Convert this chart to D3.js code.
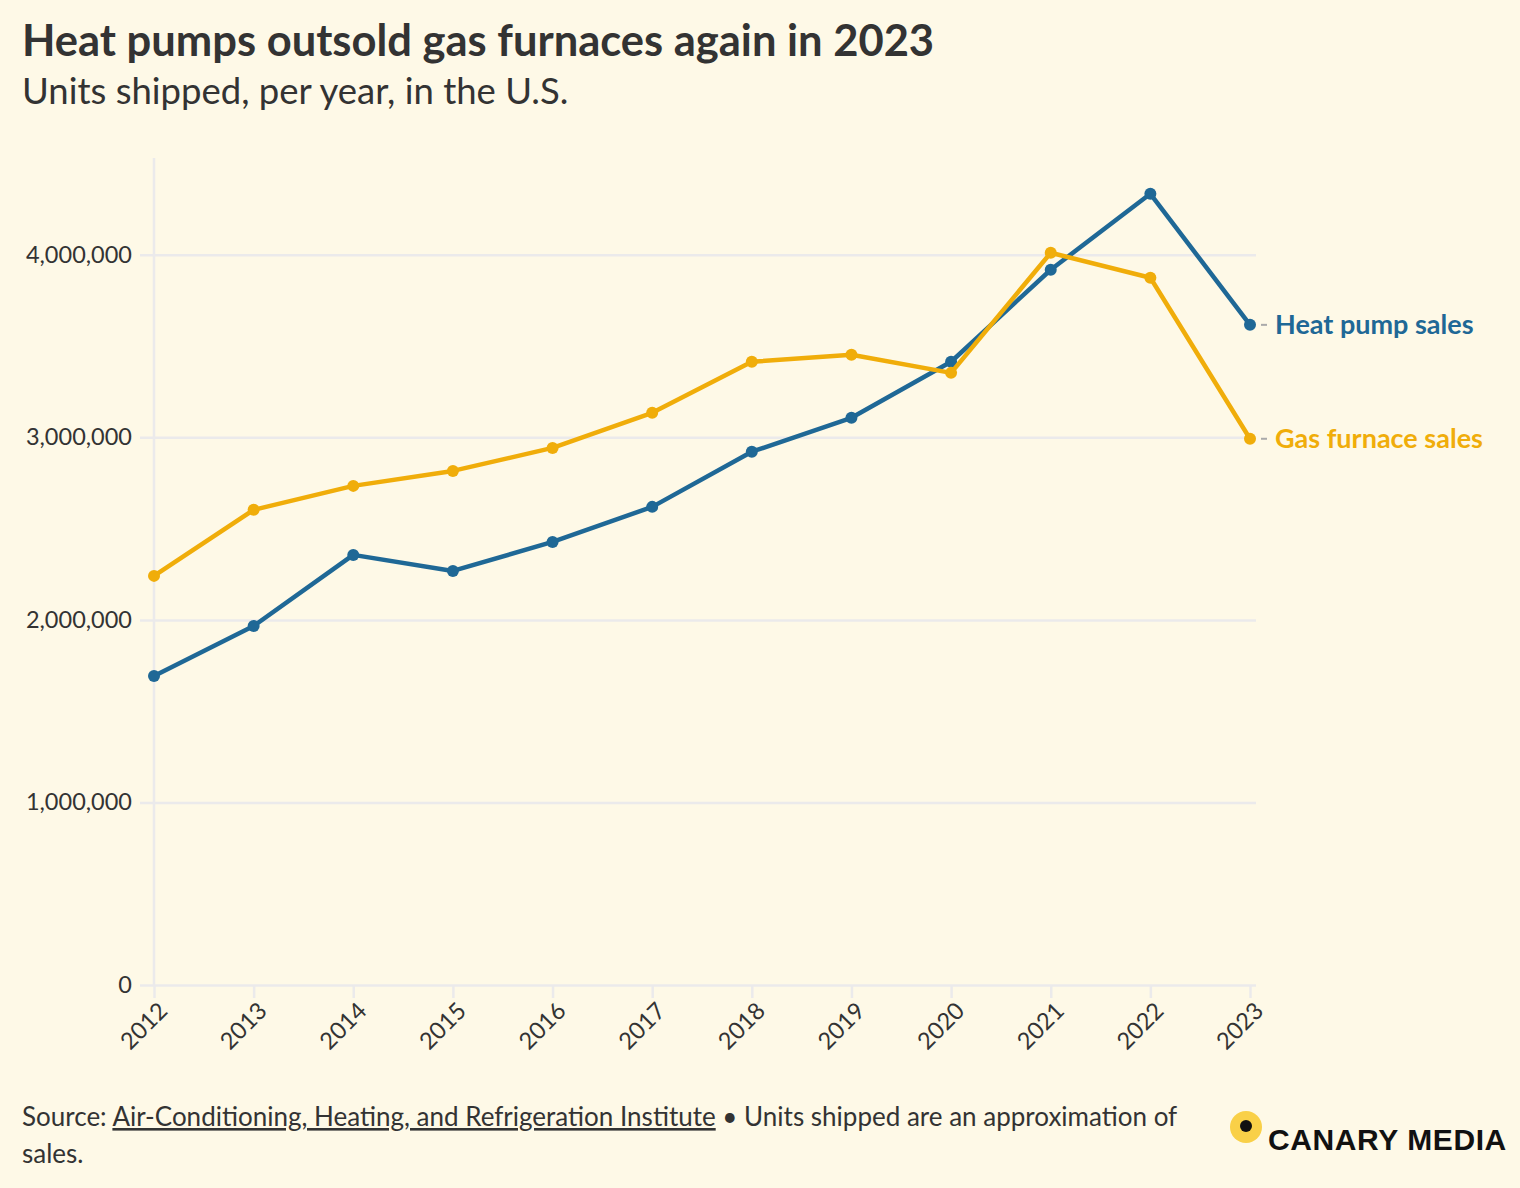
<!DOCTYPE html>
<html>
<head>
<meta charset="utf-8">
<script src="https://cdn.jsdelivr.net/npm/d3@7"></script>
<style>
  html, body { margin: 0; padding: 0; background: #fef9e7; }
  body { font-family: "Source Sans Pro", Lato, "Noto Sans", sans-serif; }
</style>
</head>
<body>
<svg id="chart" width="1520" height="1188"></svg>
<script>
// data
const years = [2012, 2013, 2014, 2015, 2016, 2017, 2018, 2019, 2020, 2021, 2022, 2023];
const heatPump = [1693000, 1967000, 2356000, 2268000, 2427000, 2619000, 2921000, 3107000, 3414000, 3918000, 4334000, 3616000];
const gasFurnace = [2241000, 2603000, 2734000, 2816000, 2942000, 3134000, 3414000, 3452000, 3353000, 4011000, 3874000, 2992000];
const yTicks = [0, 1000000, 2000000, 3000000, 4000000];

const series = [
    {name: "Heat pump sales", values: heatPump, color: "#1f6896"},
    {name: "Gas furnace sales", values: gasFurnace, color: "#f0ad0a"}
];

const width = 1520;
const height = 1188;
const margin = {top: 158, right: 270, bottom: 203, left: 154};
const gridColor = "#ebeaeb";
const textColor = "#333333";
const font = "\"Source Sans Pro\", Lato, sans-serif";

const svg = d3.select("#chart");

svg.append("rect")
    .attr("width", width)
    .attr("height", height)
    .attr("fill", "#fef9e7");

// titles
svg.append("text")
    .attr("x", 22).attr("y", 56)
    .attr("fill", textColor)
    .style("font-size", "43.5px")
    .style("font-weight", "700")
    .text("Heat pumps outsold gas furnaces again in 2023");

svg.append("text")
    .attr("x", 22).attr("y", 104)
    .attr("fill", textColor)
    .style("font-size", "36.5px")
    .text("Units shipped, per year, in the U.S.");

const x = d3.scaleLinear()
    .domain([2012, 2023])
    .range([margin.left, 1250]);

const y = d3.scaleLinear()
    .domain([0, 4530000])
    .range([height - margin.bottom, margin.top]);

const g = svg.append("g");

// horizontal gridlines + y labels
const yAxis = g.append("g")
    .attr("transform", `translate(${margin.left},0)`)
    .call(d3.axisLeft(y)
        .tickValues(yTicks)
        .tickSize(14)
        .tickPadding(8)
        .tickFormat(d3.format(",")));
yAxis.select(".domain").remove();
yAxis.selectAll(".tick line")
    .attr("x2", x(2023) - margin.left + 6)
    .attr("x1", -14)
    .attr("stroke", gridColor)
    .attr("stroke-width", 2.5);
yAxis.selectAll(".tick text")
    .attr("fill", textColor)
    .style("font-size", "23.5px")
    .style("font-family", font)
    .attr("dy", "0.32em");

// vertical axis line
g.append("line")
    .attr("x1", margin.left).attr("x2", margin.left)
    .attr("y1", margin.top).attr("y2", y(0))
    .attr("stroke", gridColor)
    .attr("stroke-width", 2.5);

// x axis
const xAxis = g.append("g")
    .attr("transform", `translate(0,${y(0)})`)
    .call(d3.axisBottom(x)
        .tickValues(years)
        .tickSize(13)
        .tickFormat(d3.format("d")));
xAxis.select(".domain").remove();
xAxis.selectAll(".tick line")
    .attr("stroke", gridColor)
    .attr("stroke-width", 2.5);
xAxis.selectAll(".tick text")
    .attr("fill", textColor)
    .style("font-size", "23.5px")
    .style("font-family", font)
    .attr("text-anchor", "end")
    .attr("transform", "translate(9,22) rotate(-45)")
    .attr("dy", "0.32em")
    .attr("y", 0);

const line = d3.line()
    .x((d, i) => x(years[i]))
    .y(d => y(d));

series.forEach(s => {
    g.append("path")
        .datum(s.values)
        .attr("fill", "none")
        .attr("stroke", s.color)
        .attr("stroke-width", 4.5)
        .attr("stroke-linejoin", "round")
        .attr("d", line);

    g.selectAll(null)
        .data(s.values)
        .enter().append("circle")
        .attr("cx", (d, i) => x(years[i]))
        .attr("cy", d => y(d))
        .attr("r", 6)
        .attr("fill", s.color);

    const last = s.values[s.values.length - 1];
    const lx = x(years[years.length - 1]);
    g.append("line")
        .attr("x1", lx + 11).attr("x2", lx + 17)
        .attr("y1", y(last)).attr("y2", y(last))
        .attr("stroke", "#aaaaaa")
        .attr("stroke-width", 2);
    g.append("text")
        .attr("x", lx + 25)
        .attr("y", y(last))
        .attr("dy", "0.35em")
        .attr("fill", s.color)
        .style("font-size", "27px")
        .style("font-weight", "700")
        .text(s.name);
});

// footer
const src = svg.append("text")
    .attr("x", 22).attr("y", 1126)
    .attr("fill", textColor)
    .style("font-size", "26px");
src.append("tspan").text("Source: ");
src.append("tspan")
    .style("text-decoration", "underline")
    .text("Air-Conditioning, Heating, and Refrigeration Institute");
src.append("tspan").text(" \u2022 Units shipped are an approximation of");
svg.append("text")
    .attr("x", 22).attr("y", 1163)
    .attr("fill", textColor)
    .style("font-size", "26px")
    .text("sales.");

// logo
svg.append("circle")
    .attr("cx", 1246).attr("cy", 1127).attr("r", 16)
    .attr("fill", "#f9d048");
svg.append("circle")
    .attr("cx", 1246).attr("cy", 1126).attr("r", 6)
    .attr("fill", "#111111");
svg.append("text")
    .attr("x", 1268).attr("y", 1150)
    .attr("fill", "#111111")
    .style("font-family", "\"Liberation Sans\", sans-serif")
    .style("font-size", "30px")
    .style("font-weight", "700")
    .style("letter-spacing", "0.6px")
    .text("CANARY MEDIA");
</script>
</body>
</html>
